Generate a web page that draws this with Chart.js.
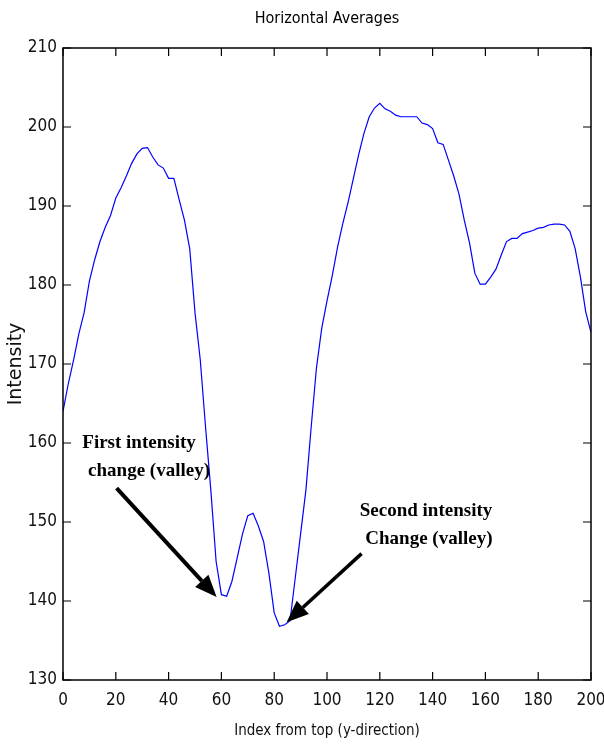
<!DOCTYPE html>
<html>
<head>
<meta charset="utf-8">
<script src="https://cdn.jsdelivr.net/npm/chart.js@4/dist/chart.umd.min.js"></script>
<style>
  html, body { margin: 0; padding: 0; background: #fff; }
  #wrap { width: 604px; height: 747px; }
</style>
</head>
<body>
<div id="wrap"><canvas id="myChart" width="604" height="747"></canvas></div>
<script>
// index from top (y-direction), every 2 rows
const rowIndex = [];
for (let i = 0; i <= 200; i += 2) rowIndex.push(i);

// horizontal average intensity
const intensity = [
  164.0, 167.5, 170.5, 173.8, 176.5, 180.5, 183.2, 185.5, 187.3, 188.8,
  191.0, 192.3, 193.8, 195.4, 196.6, 197.3, 197.4, 196.2, 195.2, 194.8,
  193.5, 193.5, 190.8, 188.2, 184.6, 176.5, 170.5, 162.0, 154.0, 145.0,
  140.8, 140.6, 142.5, 145.5, 148.5, 150.8, 151.1, 149.5, 147.5, 143.5,
  138.5, 136.8, 137.0, 137.5, 143.0, 148.5, 154.0, 162.0, 169.5, 174.5,
  178.0, 181.2, 184.8, 187.8, 190.5, 193.5, 196.5, 199.2, 201.3, 202.4,
  203.0, 202.3, 202.0, 201.5, 201.3, 201.3, 201.3, 201.3, 200.5, 200.3,
  199.8, 198.0, 197.8, 195.8, 193.8, 191.5, 188.2, 185.3, 181.5, 180.1,
  180.1, 181.0, 182.0, 183.8, 185.5, 185.9, 185.9, 186.5, 186.7, 186.9,
  187.2, 187.3, 187.6, 187.7, 187.7, 187.6, 186.8, 184.6, 181.0, 176.6,
  174.0
];

const xTicks = [0, 20, 40, 60, 80, 100, 120, 140, 160, 180, 200];
const yTicks = [130, 140, 150, 160, 170, 180, 190, 200, 210];

// annotation labels and arrows, in data units
const notes = [
  { text: 'First intensity', x: 28.8, y: 160.0 },
  { text: 'change (valley)', x: 32.6, y: 156.5 },
  { text: 'Second intensity', x: 137.5, y: 151.4 },
  { text: 'Change (valley)', x: 138.6, y: 147.8 }
];
const arrows = [
  { from: [20.3, 154.3], to: [58.2, 140.5], width: 4 },
  { from: [113.1, 146.0], to: [84.7, 137.3], width: 3.5 }
];

const chartTitle = 'Horizontal Averages';
const narrow = '"DejaVu Sans Condensed", "Liberation Sans", Arial, sans-serif';

// matlab style box with inward ticks, title over the axes, annotations
const boxPlugin = {
  id: 'box',
  afterDraw(chart) {
    const ctx = chart.ctx;
    const a = chart.chartArea;
    const xs = chart.scales.x, ys = chart.scales.y;
    ctx.save();
    ctx.strokeStyle = '#000';
    ctx.lineWidth = 1.5;
    ctx.strokeRect(a.left, a.top, a.right - a.left, a.bottom - a.top);
    ctx.lineWidth = 1.2;
    ctx.beginPath();
    xTicks.forEach(v => {
      const px = xs.getPixelForValue(v);
      ctx.moveTo(px, a.bottom); ctx.lineTo(px, a.bottom - 8);
      ctx.moveTo(px, a.top); ctx.lineTo(px, a.top + 8);
    });
    yTicks.forEach(v => {
      const py = ys.getPixelForValue(v);
      ctx.moveTo(a.left, py); ctx.lineTo(a.left + 8, py);
      ctx.moveTo(a.right, py); ctx.lineTo(a.right - 8, py);
    });
    ctx.stroke();

    // title centred over the axes box
    ctx.fillStyle = '#000';
    ctx.font = '16px ' + narrow;
    ctx.textAlign = 'center';
    ctx.textBaseline = 'middle';
    ctx.fillText(chartTitle, (a.left + a.right) / 2, a.top - 29);

    // arrows
    arrows.forEach(ar => {
      const x1 = xs.getPixelForValue(ar.from[0]), y1 = ys.getPixelForValue(ar.from[1]);
      const x2 = xs.getPixelForValue(ar.to[0]), y2 = ys.getPixelForValue(ar.to[1]);
      const ang = Math.atan2(y2 - y1, x2 - x1);
      const headLen = 22, headW = 9;
      const bx = x2 - headLen * Math.cos(ang), by = y2 - headLen * Math.sin(ang);
      ctx.lineWidth = ar.width;
      ctx.beginPath();
      ctx.moveTo(x1, y1); ctx.lineTo(bx, by);
      ctx.stroke();
      ctx.beginPath();
      ctx.moveTo(x2, y2);
      ctx.lineTo(bx + headW * Math.sin(ang), by - headW * Math.cos(ang));
      ctx.lineTo(bx - headW * Math.sin(ang), by + headW * Math.cos(ang));
      ctx.closePath();
      ctx.fill();
    });

    // labels
    ctx.font = 'bold 19px "Liberation Serif", "Times New Roman", serif';
    notes.forEach(n => {
      ctx.fillText(n.text, xs.getPixelForValue(n.x), ys.getPixelForValue(n.y));
    });
    ctx.restore();
  }
};

const ctx = document.getElementById('myChart').getContext('2d');

new Chart(ctx, {
  type: 'line',
  data: {
    datasets: [{
      label: chartTitle,
      data: rowIndex.map((x, i) => ({ x: x, y: intensity[i] })),
      borderColor: 'rgb(0, 0, 255)',
      borderWidth: 1.2,
      pointRadius: 0,
      tension: 0,
      fill: false
    }]
  },
  options: {
    responsive: false,
    animation: false,
    layout: { padding: { left: 0, right: 0, top: 48, bottom: 0 } },
    plugins: {
      legend: { display: false },
      tooltip: { enabled: false },
      title: { display: false }
    },
    scales: {
      x: {
        type: 'linear',
        min: 0,
        max: 200,
        afterFit(scale) { scale.height = 67; scale.paddingRight = 13; scale.paddingLeft = 0; },
        afterBuildTicks(scale) { scale.ticks = xTicks.map(v => ({ value: v })); },
        grid: { drawOnChartArea: false, drawTicks: false },
        border: { display: false },
        ticks: { color: '#111', padding: 10, maxRotation: 0, font: { family: narrow, size: 17 } },
        title: {
          display: true,
          text: 'Index from top (y-direction)',
          color: '#111',
          font: { family: narrow, size: 15 },
          padding: { top: 0, bottom: 7 }
        }
      },
      y: {
        min: 130,
        max: 210,
        afterFit(scale) { scale.width = 63; scale.paddingTop = 0; },
        afterBuildTicks(scale) { scale.ticks = yTicks.map(v => ({ value: v })); },
        grid: { drawOnChartArea: false, drawTicks: false },
        border: { display: false },
        ticks: { color: '#111', padding: 6, font: { family: narrow, size: 17 } },
        title: {
          display: true,
          text: 'Intensity',
          color: '#111',
          font: { family: '"DejaVu Sans", sans-serif', size: 19 },
          padding: { top: 5, bottom: 0 }
        }
      }
    }
  },
  plugins: [boxPlugin]
});
</script>
</body>
</html>
